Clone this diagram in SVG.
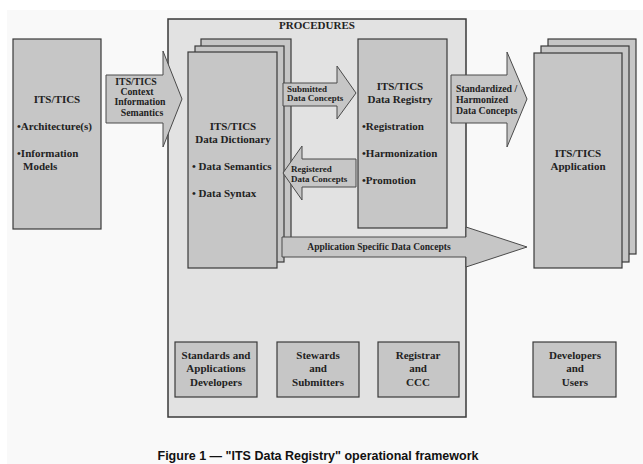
<svg xmlns="http://www.w3.org/2000/svg" width="643" height="464" viewBox="0 0 643 464">
<style>
.box{fill:#c6c6c6;stroke:#3a3a3a;stroke-width:1.2}
.proc{fill:#e2e2e2;stroke:#3a3a3a;stroke-width:1.5}
.arr{fill:#c6c6c6;stroke:#4a4a4a;stroke-width:1}
.t{font-family:"Liberation Serif","Times New Roman",serif;font-weight:bold;fill:#222;font-size:11px}
.s{font-family:"Liberation Serif","Times New Roman",serif;font-weight:bold;fill:#222;font-size:9px}
.m{font-size:9.8px}
.c{text-anchor:middle}
.cap{font-family:"Liberation Sans",Arial,sans-serif;font-weight:bold;font-size:12.5px;fill:#111;text-anchor:middle}
</style>
<rect x="0" y="0" width="643" height="464" fill="#ffffff"/>
<rect x="7" y="10" width="636" height="454" fill="#f9f9f9"/>

<g id="procedures">
<rect class="proc" x="168" y="19" width="298" height="398"/>
<text class="t c" x="317" y="29">PROCEDURES</text>
</g>

<g id="its-tics-architecture">
<rect class="box" x="13" y="39" width="88" height="190"/>
<text class="t c" x="57" y="103">ITS/TICS</text>
<text class="t" x="17" y="130">•Architecture(s)</text>
<text class="t" x="17" y="157">•Information</text>
<text class="t" x="23" y="170">Models</text>
</g>

<g id="data-dictionary">
<rect class="box" x="201" y="39" width="90" height="217"/>
<rect class="box" x="195" y="46" width="89" height="216"/>
<rect class="box" x="188" y="52" width="89" height="216"/>
<text class="t c" x="233" y="130">ITS/TICS</text>
<text class="t c" x="233" y="143">Data Dictionary</text>
<text class="t" x="192" y="170">• Data Semantics</text>
<text class="t" x="192" y="197">• Data Syntax</text>
</g>

<g id="data-registry">
<rect class="box" x="358" y="39" width="89" height="189"/>
<text class="t c" x="400" y="90">ITS/TICS</text>
<text class="t c" x="400" y="103">Data Registry</text>
<text class="t" x="362" y="130">•Registration</text>
<text class="t" x="362" y="157">•Harmonization</text>
<text class="t" x="362" y="184">•Promotion</text>
</g>

<g id="application">
<rect class="box" x="548" y="39" width="88" height="215"/>
<rect class="box" x="541" y="46" width="88" height="216"/>
<rect class="box" x="534" y="53" width="88" height="215"/>
<text class="t c" x="578" y="157">ITS/TICS</text>
<text class="t c" x="578" y="170">Application</text>
</g>

<g id="standards-developers">
<rect class="box" x="175" y="342" width="82" height="55"/>
<text class="t c" x="216" y="359">Standards and</text>
<text class="t c" x="216" y="372">Applications</text>
<text class="t c" x="216" y="386">Developers</text>
</g>
<g id="stewards-submitters">
<rect class="box" x="277" y="342" width="82" height="55"/>
<text class="t c" x="318" y="359">Stewards</text>
<text class="t c" x="318" y="372">and</text>
<text class="t c" x="318" y="386">Submitters</text>
</g>
<g id="registrar-ccc">
<rect class="box" x="378" y="342" width="81" height="55"/>
<text class="t c" x="418" y="359">Registrar</text>
<text class="t c" x="418" y="372">and</text>
<text class="t c" x="418" y="386">CCC</text>
</g>
<g id="developers-users">
<rect class="box" x="533" y="342" width="83" height="55"/>
<text class="t c" x="575" y="359">Developers</text>
<text class="t c" x="575" y="372">and</text>
<text class="t c" x="575" y="386">Users</text>
</g>

<g id="connectors">
<g id="arrow-context">
<polygon class="arr" points="106,75 163,75 163,51 182,99 163,147 163,123 106,123"/>
<text class="s m c" x="136" y="85">ITS/TICS</text>
<text class="s m c" x="137" y="95">Context</text>
<text class="s m c" x="140" y="105">Information</text>
<text class="s m c" x="142" y="116">Semantics</text>
</g>
<g id="arrow-submitted">
<polygon class="arr" points="283,83 337,83 337,66 356,93 337,119 337,106 283,106"/>
<text class="s" x="287" y="92">Submitted</text>
<text class="s" x="287" y="101">Data Concepts</text>
</g>
<g id="arrow-registered">
<polygon class="arr" points="356,159 302,159 302,146 283,173 302,200 302,187 356,187"/>
<text class="s" x="291" y="172">Registered</text>
<text class="s" x="291" y="182">Data Concepts</text>
</g>
<g id="arrow-standardized">
<polygon class="arr" points="451,75 507,75 507,52 527,99 507,147 507,123 451,123"/>
<text class="s m" x="456" y="92">Standardized /</text>
<text class="s m" x="456" y="103">Harmonized</text>
<text class="s m" x="456" y="114">Data Concepts</text>
</g>
<g id="arrow-application-specific">
<polygon class="arr" points="282,237 466,237 466,227 527,247 466,267 466,257 282,257"/>
<text class="s c" x="379" y="250" style="font-size:9.5px">Application Specific Data Concepts</text>
</g>
</g>

<text class="cap" x="318" y="460">Figure 1 — "ITS Data Registry" operational framework</text>
</svg>
